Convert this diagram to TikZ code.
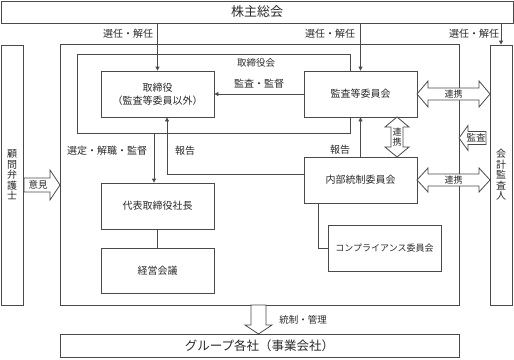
\documentclass[tikz,border=0pt]{standalone}
\usepackage{fontspec}
\setmainfont{Noto Sans CJK JP}
\usetikzlibrary{arrows.meta}
\definecolor{ln}{HTML}{4A4A4A}
\definecolor{tx}{HTML}{2A2A2A}
\begin{document}
\begin{tikzpicture}[x=1pt,y=-1pt,
  every node/.style={text=tx},
  box/.style={draw=ln, line width=0.8pt, fill=white, inner sep=0pt, align=center, font=\fontsize{10}{13}\selectfont},
  frame/.style={draw=ln, line width=0.8pt, inner sep=0pt},
  conn/.style={draw=ln, line width=0.8pt},
  arr/.style={conn, -{Triangle[length=4pt,width=4pt]}},
  lbl/.style={inner sep=0pt, font=\fontsize{10}{12}\selectfont},
  fat/.style={draw=ln, line width=0.8pt, fill=white, line join=miter},
  vtext/.style={inner sep=0pt, align=center, font=\fontsize{10}{10.5}\selectfont}
]
\useasboundingbox (0,0) rectangle (514,359);

% frames
\node[frame, minimum width=399pt, minimum height=261pt] (outer) at (259.5,174.5) {};
\node[frame, minimum width=273pt, minimum height=79pt] (board) at (213.5,93.5) {};
\node[lbl, font=\fontsize{9.5}{12}\selectfont] (boardlbl) at (256,63) {取締役会};

% boxes
\node[box, minimum width=512pt, minimum height=22pt, font=\fontsize{13}{15}\selectfont] (kabu) at (257,12) {株主総会};
\node[box, minimum width=22pt, minimum height=260pt] (bengo) at (12,175) {};
\node[vtext] at (bengo.center) {顧\\問\\弁\\護\\士};
\node[box, minimum width=22pt, minimum height=260pt] (kaikei) at (501,175) {};
\node[vtext] at (kaikei.center) {会\\計\\監\\査\\人};
\node[box, minimum width=113pt, minimum height=46pt] (tori) at (157.5,94) {取締役\\（監査等委員以外）};
\node[box, minimum width=113pt, minimum height=46pt] (kansa) at (360.5,94) {監査等委員会};
\node[box, minimum width=113pt, minimum height=46pt] (daihyo) at (157.5,206) {代表取締役社長};
\node[box, minimum width=113pt, minimum height=45pt] (keiei) at (157.5,270.5) {経営会議};
\node[box, minimum width=113pt, minimum height=46pt] (naibu) at (360.5,180) {内部統制委員会};
\node[box, minimum width=113pt, minimum height=46pt, font=\fontsize{9}{12}\selectfont] (comp) at (384.5,248) {コンプライアンス委員会};
\node[box, minimum width=399pt, minimum height=23pt, font=\fontsize{12.5}{14}\selectfont] (group) at (259.5,345.5) {グループ各社（事業会社）};

% thin connectors
\draw[arr] (tori.north |- kabu.south) -- (tori.north);
\draw[arr] (kansa.north |- kabu.south) -- (kansa.north);
\draw[arr] (kaikei.north |- kabu.south) -- (kaikei.north);
\node[lbl] (l1) at (128,34) {選任・解任};
\node[lbl] (l2) at (330,34) {選任・解任};
\node[lbl] (l3) at (474,34) {選任・解任};

\draw[arr] (kansa.west) -- (tori.east);
\node[lbl] (l4) at (259,84) {監査・監督};

\coordinate (s1) at (154,133);
\draw[arr] (s1) -- (s1 |- daihyo.north);
\node[lbl] (l5) at (107,151) {選定・解職・監督};

\coordinate (h1) at (167,174);
\draw[arr] (naibu.west |- h1) -- (h1) -- (h1 |- tori.south);
\node[lbl] (l6) at (185,151) {報告};

\draw[arr] (naibu.north) -- (kansa.south);
\node[lbl] (l7) at (340,150) {報告};

\draw[conn] (daihyo.south) -- (keiei.north);
\coordinate (c1) at (318,248);
\draw[conn] (c1 |- naibu.south) -- (c1) -- (comp.west);

% fat arrows
% upper 連携 (horizontal double)
\draw[fat] (417,94) -- (428,81) -- (428,88) -- (479,88) -- (479,81) -- (490,94) -- (479,107) -- (479,100) -- (428,100) -- (428,107) -- cycle;
\node[lbl, font=\fontsize{9}{11}\selectfont] (r1) at (453.5,94) {連携};
% lower 連携
\draw[fat] (417,180) -- (428,168) -- (428,174) -- (479,174) -- (479,168) -- (490,180) -- (479,192) -- (479,186) -- (428,186) -- (428,192) -- cycle;
\node[lbl, font=\fontsize{9}{11}\selectfont] (r2) at (453.5,180) {連携};
% vertical 連携
\draw[fat] (397,117) -- (409,127) -- (403,127) -- (403,147) -- (409,147) -- (397,157) -- (385,147) -- (391,147) -- (391,127) -- (385,127) -- cycle;
\node[vtext, font=\fontsize{9}{10}\selectfont] (r3) at (397,137) {連\\携};
% 監査 (left)
\draw[fat] (459,138) -- (468,125.5) -- (468,131.5) -- (486,131.5) -- (486,144.5) -- (468,144.5) -- (468,150.5) -- cycle;
\node[lbl, font=\fontsize{9.5}{11}\selectfont] (r4) at (476,138) {監査};
% 意見 (right)
\draw[fat] (60,185) -- (50,170) -- (50,178) -- (24,178) -- (24,192) -- (50,192) -- (50,200) -- cycle;
\node[lbl, font=\fontsize{9.5}{11}\selectfont] (r5) at (38,185) {意見};
% 統制・管理 (down)
\draw[fat] (258.5,334) -- (245,325) -- (251,325) -- (251,305) -- (266,305) -- (266,325) -- (272,325) -- cycle;
\node[lbl, font=\fontsize{9.5}{11}\selectfont] (l8) at (303,320) {統制・管理};
\end{tikzpicture}
\end{document}
